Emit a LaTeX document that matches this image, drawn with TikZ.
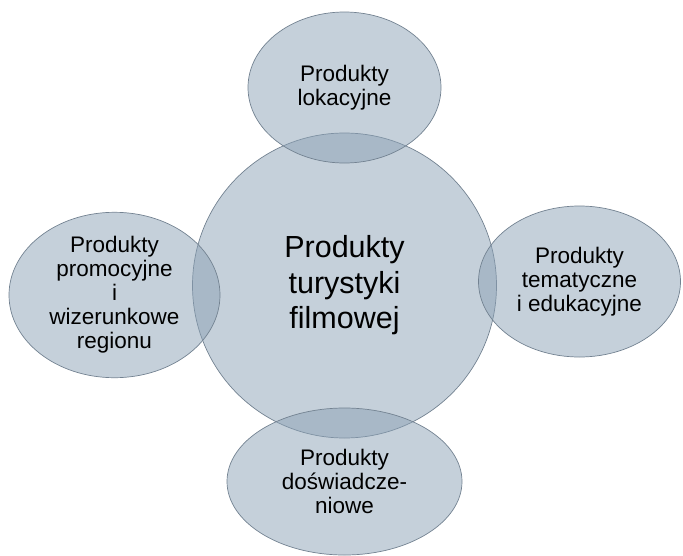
\documentclass[tikz,border=0pt]{standalone}
\usepackage{fontspec}
\setmainfont{Liberation Sans}
\usetikzlibrary{shapes.geometric}
\definecolor{bubfill}{RGB}{139,161,181}
\definecolor{bubline}{RGB}{115,130,145}
\tikzset{
  bubble/.style={ellipse, draw=bubline, line width=0.7pt, fill=bubfill, fill opacity=0.5, text opacity=1, inner sep=0pt, align=center, text=black},
  small/.style={font=\fontsize{22.5}{24}\selectfont},
  big/.style={font=\fontsize{30.5}{35.5}\selectfont}
}
\begin{document}
\begin{tikzpicture}[x=1pt,y=-1pt]
\useasboundingbox (0,0) rectangle (683,555);
\node[bubble, big, minimum width=304pt, minimum height=305pt] (c) at (344.5,285.5) {Produkty\\turystyki\\filmowej};
\node[bubble, small, minimum width=193pt, minimum height=151pt] (t) at (344.5,87.5) {Produkty\\lokacyjne};
\node[bubble, small, minimum width=211pt, minimum height=136pt] (l) at (114.5,295) {Produkty\\promocyjne\\i\\wizerunkowe\\regionu};
\node[bubble, small, minimum width=202pt, minimum height=151pt] (r) at (579.5,281.5) {Produkty\\tematyczne\\i edukacyjne};
\node[bubble, small, minimum width=235pt, minimum height=147pt] (b) at (344.5,481.5) {Produkty\\doświadcze-\\niowe};
\end{tikzpicture}
\end{document}
